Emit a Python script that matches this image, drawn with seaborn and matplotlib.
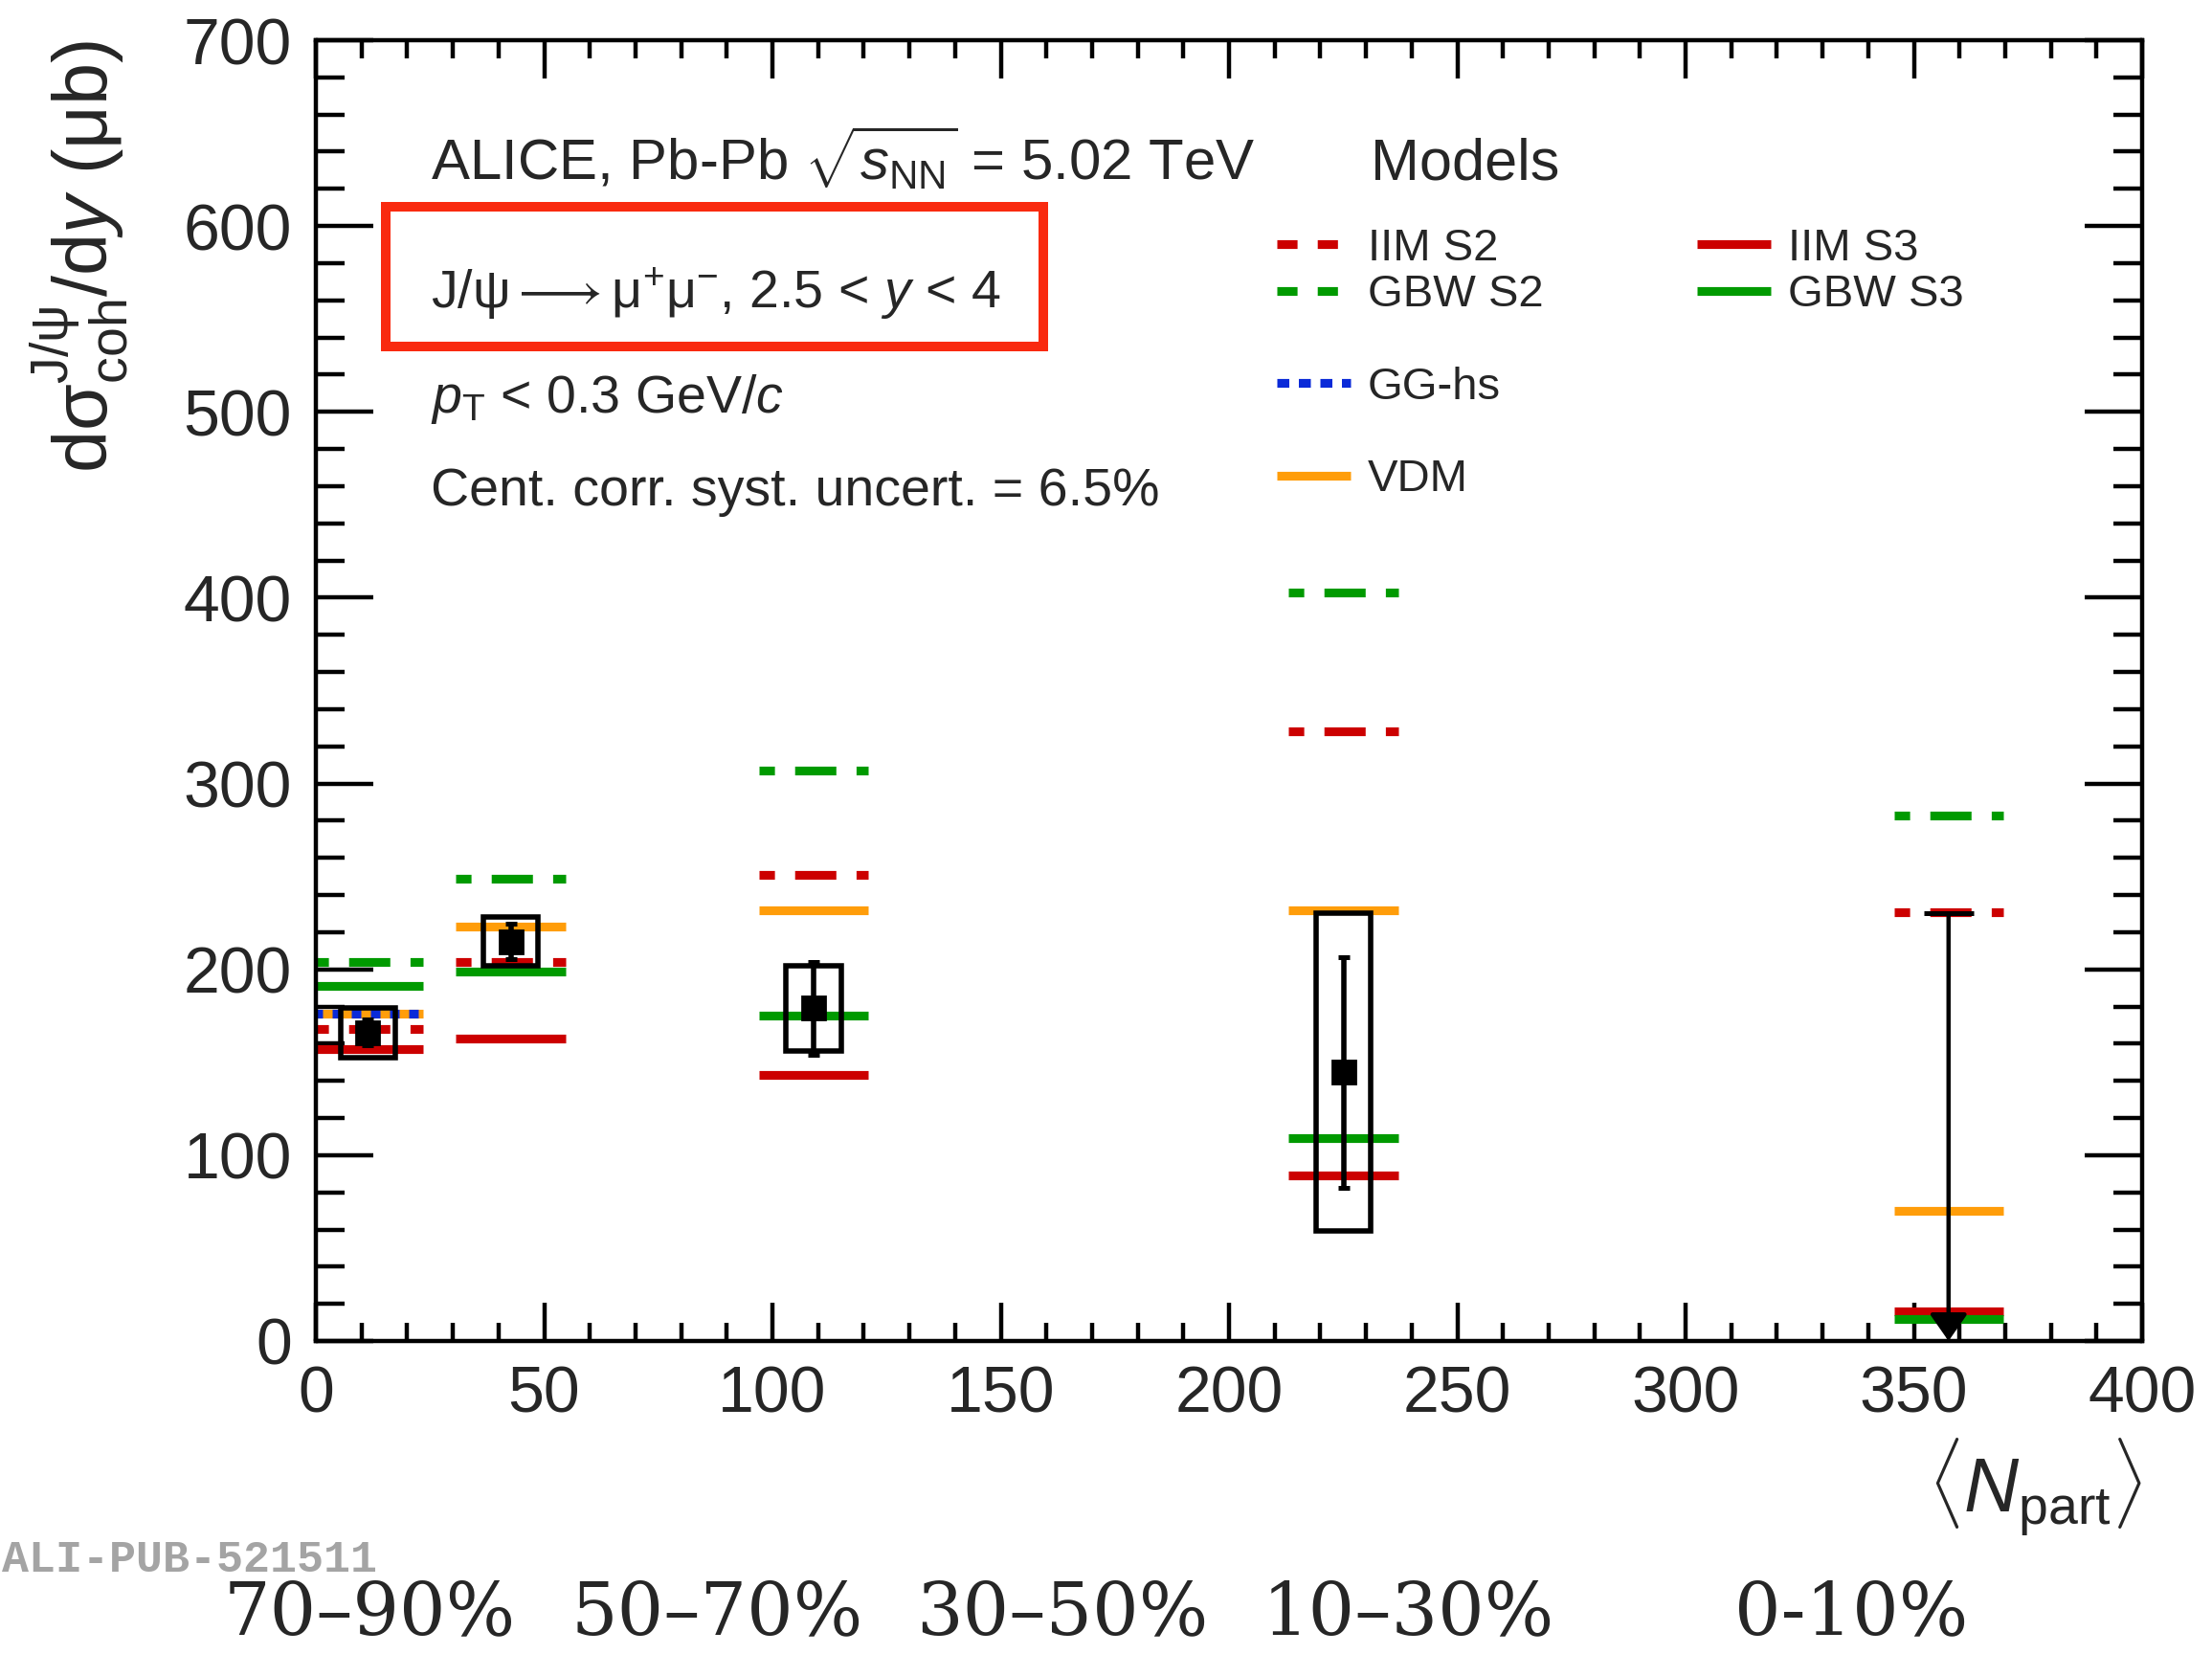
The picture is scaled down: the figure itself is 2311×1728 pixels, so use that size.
import numpy as np
import pandas as pd
import matplotlib
matplotlib.use("Agg")
import matplotlib.pyplot as plt
import seaborn as sns
from matplotlib.lines import Line2D
from matplotlib.patches import Rectangle
from matplotlib.ticker import MultipleLocator

# ---------------------------------------------------------------- data
centrality = ["70–90%", "50–70%", "30–50%", "10–30%", "0-10%"]
npart = [11.4, 42.7, 109.0, 225.1, 357.6]

# measured coherent J/psi cross sections (first four classes)
xsec = [166.0, 215.0, 179.0, 144.5]
stat_err = [7.0, 9.5, 25.0, 62.0]
syst_err = [13.5, 13.0, 23.0, 85.5]
# 0-10%: upper limit only
upper_limit = 230.0

# model predictions for each centrality class (mub)
iim_s2 = [168, 204, 251, 328, 231]
iim_s3 = [157, 163, 143, 89, 16]
gbw_s2 = [204, 249, 307, 403, 283]
gbw_s3 = [191, 199, 175, 109, 12]
gg_hs = [176]
vdm = [176, 223, 232, 232, 70]

# ---------------------------------------------------------------- style
sns.set_theme(style="ticks")
plt.rcParams["font.family"] = ["Liberation Sans", "DejaVu Sans"]
plt.rcParams["mathtext.fontset"] = "custom"
plt.rcParams["mathtext.rm"] = "Liberation Sans"
plt.rcParams["mathtext.it"] = "Liberation Sans:italic"
plt.rcParams["mathtext.bf"] = "Liberation Sans:bold"
plt.rcParams["mathtext.sf"] = "Liberation Sans"
plt.rcParams["lines.scale_dashes"] = False
plt.rcParams["axes.linewidth"] = 1.6

RED = "#cc0000"
GREEN = "#009a00"
BLUE = "#0a2ad8"
ORANGE = "#ff9d0a"

W, H, DPI = 2311, 1728, 200
fig = plt.figure(figsize=(W / DPI, H / DPI), dpi=DPI)
fig.patch.set_facecolor("white")


def fx(px):
    return px / W


def fy(py):
    return 1 - py / H


ax = fig.add_axes([fx(330), fy(1401), (2238 - 330) / W, (1401 - 42) / H])
ax.set_facecolor("white")

MODEL_HALF = 12.0
MODEL_LW = 3.3
DASHED = (9.7, (15.5, 7.6))
DOTTED = (0, (3.6, 3.6))


def draw_model(vals, color, ls, z):
    xs = npart[: len(vals)]
    d = pd.DataFrame({
        "x": np.ravel([[x - MODEL_HALF, x + MODEL_HALF] for x in xs]),
        "y": np.repeat(vals, 2).astype(float),
        "seg": np.repeat(np.arange(len(vals)), 2),
    })
    n0 = len(ax.lines)
    sns.lineplot(data=d, x="x", y="y", units="seg", estimator=None,
                 color=color, linewidth=MODEL_LW, ax=ax, legend=False,
                 zorder=z)
    for ln in ax.lines[n0:]:
        ln.set_linestyle(ls)
        ln.set_solid_capstyle("butt")
        ln.set_dash_capstyle("butt")


draw_model(iim_s2, RED, DASHED, 2.0)
draw_model(gbw_s2, GREEN, DASHED, 2.1)
draw_model(iim_s3, RED, "-", 2.2)
draw_model(gbw_s3, GREEN, "-", 2.3)
draw_model(vdm, ORANGE, "-", 2.4)
draw_model(gg_hs, BLUE, DOTTED, 2.5)

# systematic uncertainty boxes
BOX_HALF = 6.0
for x, y, s in zip(npart[:4], xsec, syst_err):
    ax.add_patch(Rectangle((x - BOX_HALF, y - s), 2 * BOX_HALF, 2 * s,
                           fill=False, ec="black", lw=2.0, zorder=4))

# data points with statistical errors
ax.errorbar(npart[:4], xsec, yerr=stat_err, fmt="s", ms=8.3, color="black",
            elinewidth=2.0, capsize=2.2, capthick=1.8, zorder=5)

# upper limit in the most central class
x_ul = npart[4]
ax.hlines(upper_limit, x_ul - 5.5, x_ul + 5.5, color="black", lw=1.8, zorder=5)
ax.annotate("", xy=(x_ul, 0), xytext=(x_ul, upper_limit),
            arrowprops=dict(arrowstyle="-|>,head_length=0.86,head_width=0.6",
                            mutation_scale=10, color="black", lw=1.6,
                            shrinkA=0, shrinkB=0),
            zorder=5, annotation_clip=False)

# ---------------------------------------------------------------- axes
ax.set_xlim(0, 400)
ax.set_ylim(0, 700)
ax.xaxis.set_major_locator(MultipleLocator(50))
ax.xaxis.set_minor_locator(MultipleLocator(10))
ax.yaxis.set_major_locator(MultipleLocator(100))
ax.yaxis.set_minor_locator(MultipleLocator(20))
ax.tick_params(which="both", direction="in", top=True, right=True,
               color="black", width=1.6, labelsize=24.5)
ax.tick_params(axis="x", which="major", length=14.4, pad=9)
ax.tick_params(axis="x", which="minor", length=6.8)
ax.tick_params(axis="y", which="major", length=21.6, pad=9)
ax.tick_params(axis="y", which="minor", length=10.8)
for sp in ax.spines.values():
    sp.set_visible(True)
    sp.set_linewidth(1.6)
    sp.set_color("black")

ax.set_xlabel(r"$\langle N_{\mathrm{part}}\rangle$", fontsize=28.5, loc="right")
ax.xaxis.set_label_coords(1.0, -0.0729)
ax.xaxis.label.set_va("top")
ax.set_ylabel(r"d$\mathrm{\sigma}^{\mathrm{J/\psi}}_{\mathrm{coh}}$/d$y$ ($\mathrm{\mu}$b)",
              fontsize=28.5, loc="top")
ax.yaxis.set_label_coords(-0.1012, 1.0)

# ---------------------------------------------------------------- texts
fig.text(fx(450), fy(188), r"ALICE, Pb-Pb $\sqrt{s_{\mathrm{NN}}}$ = 5.02 TeV",
         fontsize=21.6, va="baseline", ha="left")
fig.text(fx(450), fy(322),
         r"J/$\mathrm{\psi}\longrightarrow\mathrm{\mu^{+}\mu^{-}}$, 2.5 < $y$ < 4",
         fontsize=20, va="baseline", ha="left")
fig.text(fx(450), fy(431), r"$p_{\mathrm{T}}$ < 0.3 GeV/$c$",
         fontsize=20, va="baseline", ha="left")
fig.text(fx(450), fy(528), "Cent. corr. syst. uncert. = 6.5%",
         fontsize=20, va="baseline", ha="left")

fig.add_artist(Rectangle((fx(403), fy(362)), fx(1090) - fx(403), fy(216) - fy(362),
                         transform=fig.transFigure, fill=False,
                         ec="#f92a0f", lw=3.6))

# legend
fig.text(fx(1432), fy(188), "Models", fontsize=22, va="baseline", ha="left")
blank = Line2D([], [], ls="none")
handles = [
    Line2D([], [], color=RED, lw=MODEL_LW, ls=(0, (7.6, 7.6))),
    Line2D([], [], color=GREEN, lw=MODEL_LW, ls=(0, (7.6, 7.6))),
    blank,
    Line2D([], [], color=BLUE, lw=MODEL_LW, ls=(0, (4.5, 3.6))),
    blank,
    Line2D([], [], color=ORANGE, lw=MODEL_LW, solid_capstyle="butt"),
    Line2D([], [], color=RED, lw=MODEL_LW, solid_capstyle="butt"),
    Line2D([], [], color=GREEN, lw=MODEL_LW, solid_capstyle="butt"),
    blank, blank, blank, blank,
]
labels = ["IIM S2", "GBW S2", "", "GG-hs", "", "VDM",
          "IIM S3", "GBW S3", "", "", "", ""]
fig.legend(handles, labels, ncol=2, loc="upper left",
           bbox_to_anchor=(fx(1334), fy(238)), bbox_transform=fig.transFigure,
           frameon=False, fontsize=17, handlelength=1.63, handletextpad=0.38,
           columnspacing=3.39, labelspacing=0.09, borderpad=0,
           borderaxespad=0)

# centrality classes under the axis
label_x = [386, 749, 1110, 1471, 1934]
for lab, px in zip(centrality, label_x):
    fig.text(fx(px), fy(1707), lab, fontfamily="DejaVu Serif", fontsize=27.5,
             ha="center", va="baseline")

fig.text(fx(2), fy(1642), "ALI-PUB-521511", fontfamily="Liberation Mono",
         fontweight="bold", color="#a4a4a4", fontsize=16.8, va="baseline",
         ha="left")

fig.savefig("out.png", dpi=DPI, facecolor="white")
